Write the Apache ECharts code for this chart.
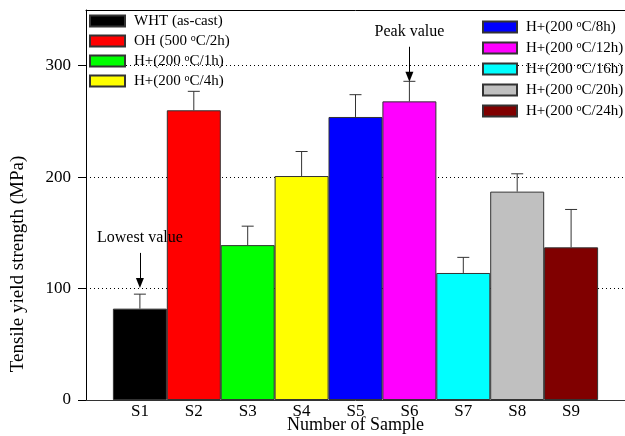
<!DOCTYPE html>
<html>
<head>
<meta charset="utf-8">
<script src="https://cdn.jsdelivr.net/npm/echarts@6/dist/echarts.min.js"></script>
<style>
html,body{margin:0;padding:0;background:#fff;}
#chart{width:625px;height:436px;}
</style>
</head>
<body>
<div id="chart"></div>
<script>
var samples = ['S1','S2','S3','S4','S5','S6','S7','S8','S9']
var names = ['WHT (as-cast)','OH (500 oC/2h)','H+(200 oC/1h)','H+(200 oC/4h)',
    'H+(200 oC/8h)','H+(200 oC/12h)','H+(200 oC/16h)','H+(200 oC/20h)','H+(200 oC/24h)']
var colors = ['#000000','#ff0000','#00ff00','#ffff00','#0000ff','#ff00ff','#00ffff','#c0c0c0','#800000']
var strength = [82, 260, 139, 201, 254, 268, 114, 187, 137]
var errors = [13, 17, 17, 22, 20, 18, 14, 16, 34]
var yTicks = [0, 100, 200, 300]

// annotations: sample index, text level, arrow from, arrow to
var noteText = ['Lowest value', 'Peak value']
var noteAt = [1, 6]
var noteY = [146, 330]
var arrowFrom = [132, 317]
var arrowTo = [105, 290]

var FONT = 'Liberation Serif, Times New Roman, serif'

var series = []
for (let i = 0; i < samples.length; i++) {
    series.push({
        type: 'bar',
        name: names[i],
        stack: 'all',
        barWidth: 54,
        data: [[i + 1, strength[i]]],
        itemStyle: {color: colors[i], borderColor: '#333', borderWidth: 1},
        emphasis: {disabled: true}
    })
}

var errData = []
for (let i = 0; i < samples.length; i++) {
    errData.push([i + 1, strength[i], errors[i]])
}

var lines = []
var texts = []
for (let i = 0; i < noteText.length; i++) {
    lines.push([{coord: [noteAt[i], arrowFrom[i]]}, {coord: [noteAt[i], arrowTo[i]]}])
    texts.push({coord: [noteAt[i], noteY[i]], value: noteText[i]})
}

series.push({
    type: 'custom',
    name: 'err',
    data: errData,
    z: 4,
    renderItem: function (params, api) {
        var x = api.value(0)
        var top = api.coord([x, api.value(1)])
        var end = api.coord([x, api.value(1) + api.value(2)])
        var st = {stroke: '#333', lineWidth: 1}
        return {
            type: 'group',
            children: [
                {type: 'line', shape: {x1: top[0], y1: top[1], x2: end[0], y2: end[1]}, style: st},
                {type: 'line', shape: {x1: end[0] - 6, y1: end[1], x2: end[0] + 6, y2: end[1]}, style: st}
            ]
        }
    },
    markLine: {
        silent: true,
        symbol: ['none', 'triangle'],
        symbolSize: [8, 10],
        lineStyle: {color: '#000', width: 1, type: 'solid'},
        label: {show: false},
        data: lines
    },
    markPoint: {
        silent: true,
        symbolSize: 0,
        label: {show: true, position: 'inside', formatter: '{c}', color: '#000', fontFamily: FONT, fontSize: 16},
        data: texts
    }
})

function legendFmt(name) {
    return name.replace(' oC', ' {s|o}C')
}
var legendText = {
    fontFamily: FONT, fontSize: 15, color: '#000', lineHeight: 16, padding: [0, 0, 0, 4],
    rich: {s: {fontFamily: FONT, fontSize: 10, lineHeight: 10, verticalAlign: 'top', color: '#000'}}
}

var option = {
    animation: false,
    grid: {left: 86, right: 0, top: 10, bottom: 36, outerBoundsMode: 'none', containLabel: false},
    legend: [
        {
            data: names.slice(0, 4), orient: 'vertical', left: 89, top: 13, padding: 0,
            icon: 'rect', itemWidth: 35, itemHeight: 11, itemGap: 4,
            formatter: legendFmt, textStyle: legendText, selectedMode: false
        },
        {
            data: names.slice(4), orient: 'vertical', left: 482, top: 19, padding: 0,
            icon: 'rect', itemWidth: 34, itemHeight: 11, itemGap: 5,
            formatter: legendFmt, textStyle: legendText, selectedMode: false
        }
    ],
    xAxis: [
        {
            type: 'value', min: 0, max: 10, interval: 1,
            name: 'Number of Sample', nameLocation: 'middle', nameGap: 16, nameMoveOverlap: false,
            nameTextStyle: {fontFamily: FONT, fontSize: 18, color: '#000', verticalAlign: 'top'},
            axisLine: {lineStyle: {color: '#333'}},
            axisTick: {show: false},
            splitLine: {show: false},
            axisLabel: {
                margin: 3, fontFamily: FONT, fontSize: 17, color: '#000',
                formatter: function (v) { return samples[v - 1] || '' }
            }
        },
        {
            type: 'value', min: 0, max: 10, position: 'top',
            axisLine: {show: true, onZero: false, lineStyle: {color: '#000'}},
            axisTick: {show: false}, axisLabel: {show: false}, splitLine: {show: false}
        }
    ],
    yAxis: {
        type: 'value', min: 0, max: 350, interval: 100,
        axisLine: {show: true, lineStyle: {color: '#000'}},
        axisTick: {show: true, length: 8, customValues: yTicks, lineStyle: {color: '#000'}},
        axisLabel: {customValues: yTicks, margin: 15, fontFamily: FONT, fontSize: 17, color: '#000'},
        splitLine: {show: true, lineStyle: {color: '#000', type: [1, 3], width: 1}}
    },
    graphic: [{
        type: 'text', x: 18, y: 264, rotation: Math.PI / 2,
        style: {text: 'Tensile yield strength (MPa)', fontFamily: FONT, fontSize: 19, fill: '#000',
            align: 'center', verticalAlign: 'middle'}
    }],
    series: series
}

var myChart = echarts.init(document.getElementById('chart'))
myChart.setOption(option)
</script>
</body>
</html>
